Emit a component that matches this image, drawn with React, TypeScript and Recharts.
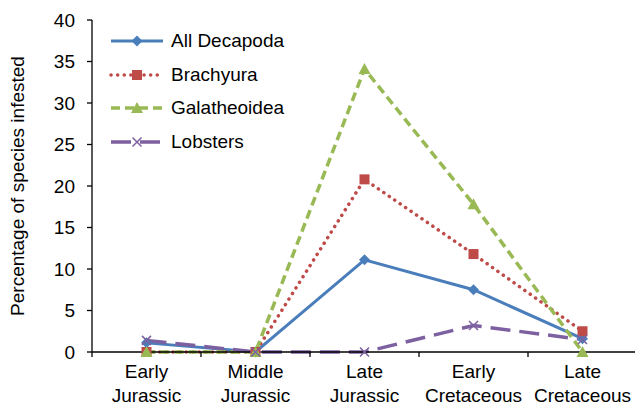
import React from 'react'
import { LineChart, Line, XAxis, YAxis, Legend } from 'recharts'

const categories = ['Early\nJurassic', 'Middle\nJurassic', 'Late\nJurassic', 'Early\nCretaceous', 'Late\nCretaceous']
const allDecapoda = [1.1, 0, 11.1, 7.5, 1.6]
const brachyura = [0, 0, 20.8, 11.8, 2.5]
const galatheoidea = [0, 0, 34.1, 17.8, 0]
const lobsters = [1.4, 0, 0, 3.2, 1.5]
const yTicks = [0, 5, 10, 15, 20, 25, 30, 35, 40]

const data = categories.map((name, i) => ({
  name,
  all: allDecapoda[i],
  brachyura: brachyura[i],
  galatheoidea: galatheoidea[i],
  lobsters: lobsters[i],
}))

const FONT = '"Liberation Sans", Arial, sans-serif'
const CHART_W = 637
const PLOT_LEFT = 92
const BAND = (CHART_W - PLOT_LEFT) / categories.length

const series = [
  { key: 'all', name: 'All Decapoda', color: '#4A7EBB', dash: undefined, width: 3, cap: 'butt', marker: 'diamond' },
  { key: 'brachyura', name: 'Brachyura', color: '#BE4B48', dash: '0.1 6.5', width: 3.5, cap: 'round', marker: 'square' },
  { key: 'galatheoidea', name: 'Galatheoidea', color: '#98B954', dash: '9 5', width: 3.5, cap: 'butt', marker: 'triangle' },
  { key: 'lobsters', name: 'Lobsters', color: '#7D60A0', dash: '20 9', width: 3.5, cap: 'butt', marker: 'x' },
]

function Marker({ type, cx, cy, color }: { type: string; cx: number; cy: number; color: string }) {
  if (type === 'diamond') {
    return <path d={`M${cx},${cy - 5.5}L${cx + 5.5},${cy}L${cx},${cy + 5.5}L${cx - 5.5},${cy}Z`} fill={color} />
  }
  if (type === 'square') {
    return <rect x={cx - 5} y={cy - 5} width={10} height={10} fill={color} />
  }
  if (type === 'triangle') {
    return <path d={`M${cx},${cy - 6}L${cx + 6},${cy + 5}L${cx - 6},${cy + 5}Z`} fill={color} />
  }
  return (
    <path
      d={`M${cx - 4.5},${cy - 4.5}L${cx + 4.5},${cy + 4.5}M${cx + 4.5},${cy - 4.5}L${cx - 4.5},${cy + 4.5}`}
      stroke={color}
      strokeWidth={1.5}
      fill="none"
    />
  )
}

const XTick = ({ x, y, payload, index }: any) => {
  const lines = String(payload.value).split('\n')
  const left = x - BAND / 2
  return (
    <g>
      <line x1={left} y1={y} x2={left} y2={y + 5} stroke="#000" strokeWidth={1.3} />
      {index === categories.length - 1 && (
        <line x1={x + BAND / 2} y1={y} x2={x + BAND / 2} y2={y + 5} stroke="#000" strokeWidth={1.3} />
      )}
      <text x={x} y={y} textAnchor="middle" fontFamily={FONT} fontSize={19} fill="#000">
        {lines.map((l, i) => (
          <tspan key={i} x={x} dy={i === 0 ? 26 : 24}>
            {l}
          </tspan>
        ))}
      </text>
    </g>
  )
}

const LegendContent = () => (
  <div style={{ fontFamily: FONT, fontSize: 19, color: '#000' }}>
    {series.map((s) => (
      <div key={s.key} style={{ display: 'flex', alignItems: 'center', height: 33.7 }}>
        <svg width={56} height={16} style={{ marginRight: 6 }}>
          <line
            x1={2}
            y1={8}
            x2={54}
            y2={8}
            stroke={s.color}
            strokeWidth={s.width}
            strokeDasharray={s.dash}
            strokeLinecap={s.cap as any}
          />
          <Marker type={s.marker} cx={28} cy={8} color={s.color} />
        </svg>
        <span>{s.name}</span>
      </div>
    ))}
  </div>
)

export default function App() {
  return (
    <div style={{ position: 'absolute', left: 0, top: 0, width: 635, height: 407, overflow: 'hidden', background: '#fff' }}>
      <LineChart width={CHART_W} height={407} data={data} margin={{ top: 20, right: 0, bottom: 0, left: 0 }}>
        <XAxis
          dataKey="name"
          scale="band"
          interval={0}
          height={55}
          tickLine={false}
          tickSize={0}
          tickMargin={0}
          axisLine={{ stroke: '#000', strokeWidth: 1.3 }}
          tick={<XTick />}
        />
        <YAxis
          domain={[0, 40]}
          ticks={yTicks}
          width={PLOT_LEFT}
          interval={0}
          tickSize={5}
          tickMargin={12}
          axisLine={{ stroke: '#000', strokeWidth: 1.3 }}
          tickLine={{ stroke: '#000', strokeWidth: 1.3 }}
          tick={{ fill: '#000', fontSize: 19, fontFamily: FONT }}
          label={{
            value: 'Percentage of species infested',
            angle: -90,
            position: 'insideLeft',
            dx: 12,
            dy: 0,
            style: { fill: '#000', fontSize: 19, fontFamily: FONT, textAnchor: 'middle' },
          }}
        />
        <Legend
          layout="vertical"
          verticalAlign="middle"
          align="center"
          content={<LegendContent />}
          wrapperStyle={{ left: 109, top: 24, width: 220, height: 140 }}
        />
        {series.map((s) => (
          <Line
            key={s.key}
            type="linear"
            dataKey={s.key}
            name={s.name}
            stroke={s.color}
            strokeWidth={s.width}
            strokeDasharray={s.dash}
            strokeLinecap={s.cap as any}
            isAnimationActive={false}
            dot={(p: any) => <Marker key={`${s.key}-${p.index}`} type={s.marker} cx={p.cx} cy={p.cy} color={s.color} />}
            activeDot={false}
          />
        ))}
      </LineChart>
    </div>
  )
}
